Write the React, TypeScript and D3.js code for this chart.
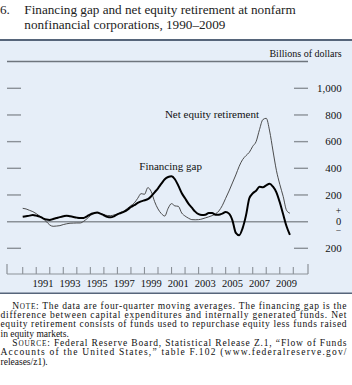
import React from 'react';
import * as d3 from 'd3';

// quarterly, 1990:Q1 - 2009:Q4, billions of dollars (four-quarter moving avg)
const financingGap = [
  37, 41, 45, 50, 45, 38, 25, 16, 13, 20,
  27, 34, 40, 45, 40, 35, 30, 27, 28, 40,
  55, 63, 68, 60, 48, 36, 32, 40, 55, 65,
  75, 90, 110, 123, 140, 152, 160, 168, 190, 220,
  250, 285, 318, 335, 340, 318, 270, 215, 175, 135,
  105, 75, 56, 50, 52, 65, 65, 52, 52, 60,
  72, 60, 10, -85, -102, -50, 45, 175, 212, 232,
  262, 258, 272, 285, 262, 220, 145, 55, -35, -100,
];

const netEquityRetirement = [
  100, 95, 85, 75, 60, 42, 23, 0, -25, -35,
  -33, -30, -22, -16, -12, -11, -10, -10, 2, 22,
  45, 60, 67, 60, 52, 46, 45, 50, 58, 68,
  80, 100, 120, 140, 175, 210, 205, 255, 225, 150,
  95, 60, 42, 100, 135, 118, 115, 65, 42, 26,
  15, 14, 15, 20, 28, 36, 45, 58, 80, 120,
  175, 230, 290, 350, 415, 465, 495, 520, 565, 600,
  690, 765, 775, 680, 530, 385, 280, 190, 85, 63,
];

const startYear = 1990;
const yearTicks = d3.range(1990, 2011);
const yearLabels = [1991, 1993, 1995, 1997, 1999, 2001, 2003, 2005, 2007, 2009];
const valueTicks = [1000, 800, 600, 400, 200, 0, -200];

const titleLines = [
  'Financing gap and net equity retirement at nonfarm',
  'nonfinancial corporations, 1990–2009',
];

const SERIF = '"Liberation Serif", "Times New Roman", Times, serif';

const W = 352;
const H = 385;
const frameLeft = 7;
const frameRight = 308;
const axisY = 274;

const x = d3.scaleLinear().domain([1990, 2010]).range([22.7, 293.3]);
const y = d3.scaleLinear().domain([-200, 1000]).range([248.3, 88.3]);

const toPoints = (vals: number[]) =>
  vals.map((v, i) => [startYear + i / 4, v] as [number, number]);

const line = d3
  .line<[number, number]>()
  .x((d) => x(d[0]))
  .y((d) => y(d[1]))
  .curve(d3.curveMonotoneX);

const fmt = (v: number) => (v === 0 ? '0' : d3.format(',')(Math.abs(v)));

// note lines: text parts (sc = small caps), left x, justified or not
type Part = { t: string; sc?: boolean };
const noteLines: { parts: Part[]; x: number; justify: boolean }[] = [
  { parts: [{ t: 'N' }, { t: 'OTE', sc: true }, { t: ':  The data are four-quarter moving averages. The financing gap is the' }], x: 12.3, justify: true },
  { parts: [{ t: 'difference between capital expenditures and internally generated funds. Net' }], x: 0.5, justify: true },
  { parts: [{ t: 'equity retirement consists of funds used to repurchase equity less funds raised' }], x: 0.5, justify: true },
  { parts: [{ t: 'in equity markets.' }], x: 0.5, justify: false },
  { parts: [{ t: 'S' }, { t: 'OURCE', sc: true }, { t: ':  Federal Reserve Board, Statistical Release Z.1, \u201cFlow of Funds' }], x: 12.3, justify: true },
  { parts: [{ t: 'Accounts of the United States,\u201d table F.102 (www.federalreserve.gov/' }], x: 0.5, justify: true },
  { parts: [{ t: 'releases/z1).' }], x: 0.5, justify: false },
];

export default function App() {
  const gridGrey = '#8b9198';
  const noteSize = 9.5;
  return (
    <svg
      width={W}
      height={H}
      style={{ position: 'absolute', left: 0, top: 0, background: '#fff' }}
      fontFamily={SERIF}
    >
      {/* title */}
      <text x={0} y={14} fontSize={13.2} fill="#222">6.</text>
      {titleLines.map((t, i) => (
        <text key={i} x={24.3} y={14 + i * 15} fontSize={13.2} fill="#222">
          {t}
        </text>
      ))}

      {/* panel */}
      <rect x={0} y={40} width={W} height={253} fill="#e6eef8" />
      <line x1={0} x2={W} y1={40} y2={40} stroke="#56657a" strokeWidth={2} />
      <line x1={0} x2={W} y1={293.3} y2={293.3} stroke="#56657a" strokeWidth={1.6} />

      <text x={341.7} y={56.5} fontSize={10} textAnchor="end" fill="#111">
        Billions of dollars
      </text>
      <line x1={frameLeft} x2={frameRight} y1={61.5} y2={61.5} stroke="#6e757d" strokeWidth={1.3} />

      {/* value ticks */}
      {valueTicks.map((v) => (
        <g key={v}>
          {v !== 0 && (
            <>
              <line x1={frameLeft} x2={21} y1={y(v)} y2={y(v)} stroke={gridGrey} strokeWidth={1.4} />
              <line x1={294} x2={frameRight} y1={y(v)} y2={y(v)} stroke={gridGrey} strokeWidth={1.4} />
              <text x={341.7} y={y(v) + 3.8} fontSize={11} textAnchor="end" fill="#111">
                {fmt(v)}
              </text>
            </>
          )}
          {v === 0 && (
            <g textAnchor="middle" fill="#111">
              <text x={338.5} y={y(0) - 7.5} fontSize={9.5}>+</text>
              <text x={338.5} y={y(0) + 3.5} fontSize={10.5}>0</text>
              <text x={338.5} y={y(0) + 12.5} fontSize={9.5}>−</text>
            </g>
          )}
        </g>
      ))}
      <line x1={frameLeft} x2={frameRight} y1={y(0)} y2={y(0)} stroke={gridGrey} strokeWidth={1.5} />

      {/* x axis */}
      <line x1={frameLeft} x2={frameRight} y1={axisY} y2={axisY} stroke={gridGrey} strokeWidth={1.2} />
      <line x1={frameLeft} x2={frameLeft} y1={264} y2={axisY} stroke={gridGrey} strokeWidth={1.2} />
      <line x1={frameRight} x2={frameRight} y1={264} y2={axisY} stroke={gridGrey} strokeWidth={1.2} />
      {yearTicks.map((yr) => (
        <line key={yr} x1={x(yr)} x2={x(yr)} y1={267} y2={axisY} stroke={gridGrey} strokeWidth={1.1} />
      ))}
      {yearLabels.map((yr) => (
        <text key={yr} x={x(yr + 0.5)} y={287} fontSize={10.5} textAnchor="middle" fill="#111">
          {yr}
        </text>
      ))}

      {/* series */}
      <path d={line(toPoints(netEquityRetirement)) || ''} fill="none" stroke="#3a3a3a" strokeWidth={0.9} />
      <path d={line(toPoints(financingGap)) || ''} fill="none" stroke="#000" strokeWidth={2} strokeLinejoin="round" />

      <text x={259} y={117.5} fontSize={11} textAnchor="end" fill="#111">
        Net equity retirement
      </text>
      <text x={139.3} y={170} fontSize={11} fill="#111">
        Financing gap
      </text>

      {/* notes */}
      {noteLines.map((ln, i) => (
        <text
          key={i}
          x={ln.x}
          y={308.5 + i * 9.35}
          fontSize={noteSize}
          fill="#111"
          textLength={ln.justify ? 346.5 - ln.x : undefined}
          lengthAdjust={ln.justify ? 'spacing' : undefined}
        >
          {ln.parts.map((p, j) => (
            <tspan key={j} fontSize={p.sc ? noteSize * 0.76 : noteSize}>
              {p.t}
            </tspan>
          ))}
        </text>
      ))}
    </svg>
  );
}
